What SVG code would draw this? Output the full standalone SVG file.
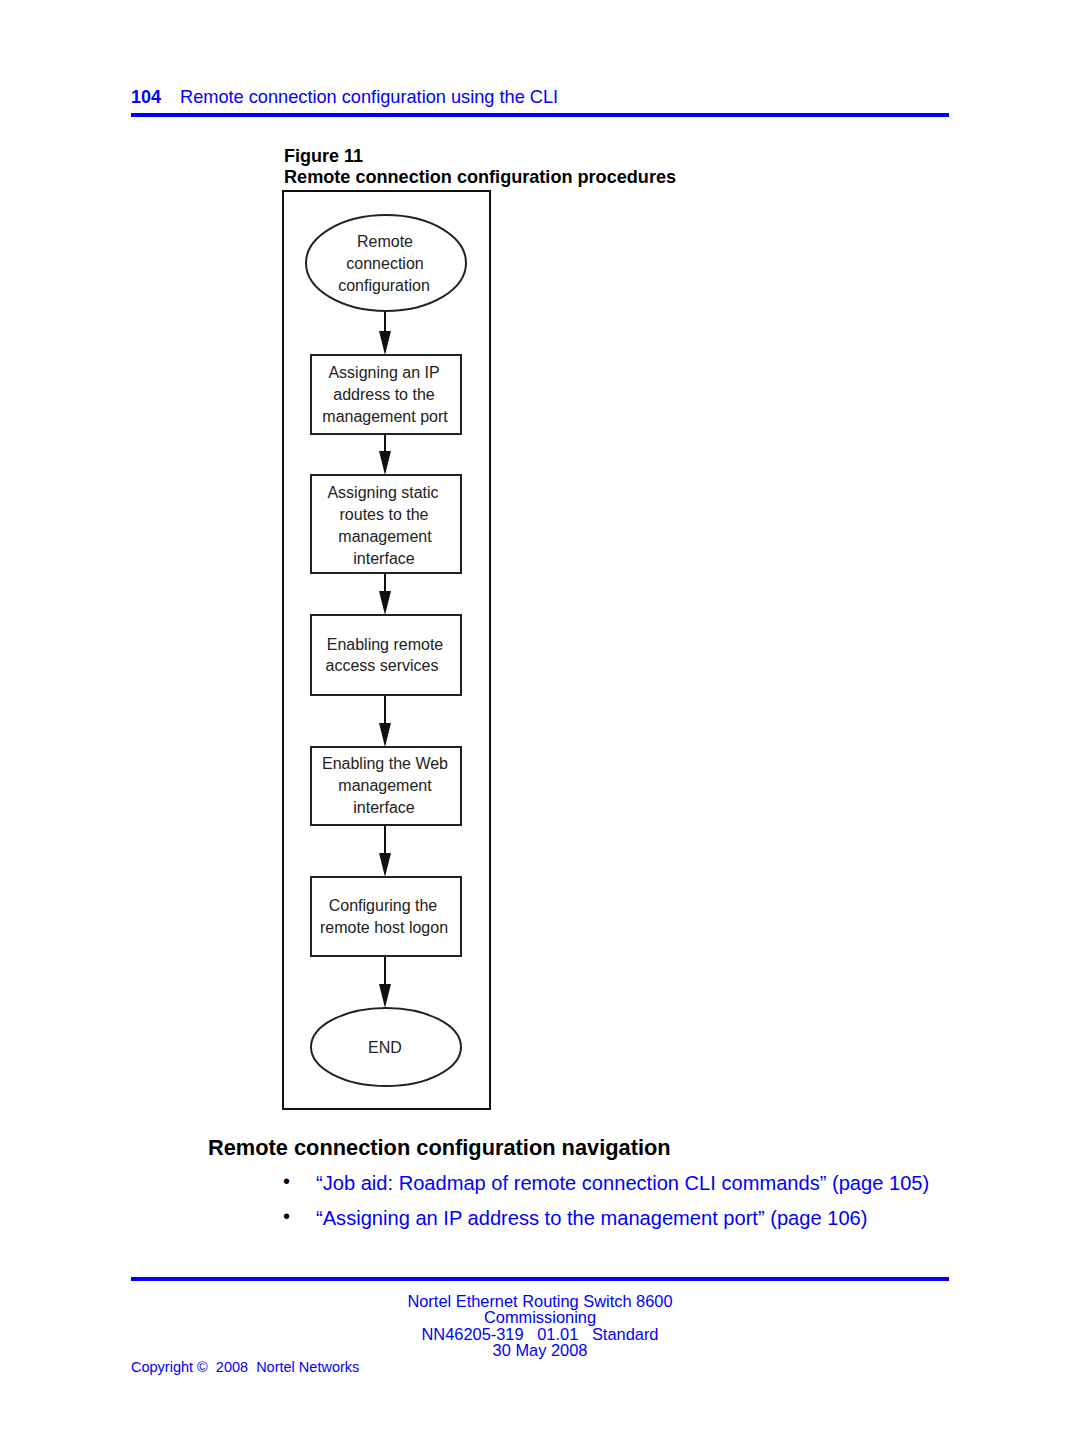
<svg xmlns="http://www.w3.org/2000/svg" width="1080" height="1440" viewBox="0 0 1080 1440">
<defs>
<style>
.hdr{font-family:"Liberation Sans",Arial,sans-serif;fill:#0000ff;}
.node{fill:#fff;stroke:#222;stroke-width:2;}
.nt{font-family:"Liberation Sans",Arial,sans-serif;font-size:16px;fill:#222;text-anchor:middle;}
.edge{stroke:#111;stroke-width:2;fill:none;}
.cap{font-family:"Liberation Sans",Arial,sans-serif;font-weight:bold;fill:#000;}
.ft{font-family:"Liberation Sans",Arial,sans-serif;font-size:16.4px;fill:#0000ff;text-anchor:middle;white-space:pre;}
</style>
</defs>
<rect width="1080" height="1440" fill="#fff"/>
<g id="header">
<text class="hdr" x="131" y="103" font-size="18" font-weight="bold">104</text>
<text class="hdr" x="180" y="103" font-size="18.2">Remote connection configuration using the CLI</text>
<rect x="131" y="113" width="818" height="4" fill="#0000ff"/>
</g>
<g id="caption">
<text class="cap" x="284" y="162" font-size="18">Figure 11</text>
<text class="cap" x="284" y="183" font-size="18.1">Remote connection configuration procedures</text>
</g>
<rect id="frame" x="283" y="191" width="207" height="918" fill="none" stroke="#111" stroke-width="2"/>
<g id="connectors">
<path class="edge" d="M385,311 V331"/><path d="M379,331 L385,355 L391,331 Z" fill="#111"/>
<path class="edge" d="M385,434 V451"/><path d="M379,451 L385,475 L391,451 Z" fill="#111"/>
<path class="edge" d="M385,573 V591"/><path d="M379,591 L385,615 L391,591 Z" fill="#111"/>
<path class="edge" d="M385,695 V723"/><path d="M379,723 L385,747 L391,723 Z" fill="#111"/>
<path class="edge" d="M385,825 V853"/><path d="M379,853 L385,877 L391,853 Z" fill="#111"/>
<path class="edge" d="M385,956 V984"/><path d="M379,984 L385,1008 L391,984 Z" fill="#111"/>
</g>
<g id="start">
<ellipse class="node" cx="386" cy="263" rx="80" ry="48"/>
<text class="nt" x="385" y="247">Remote</text>
<text class="nt" x="385" y="269">connection</text>
<text class="nt" x="384" y="291">configuration</text>
</g>
<g id="assign-ip">
<rect class="node" x="311" y="355" width="150" height="79"/>
<text class="nt" x="384" y="378">Assigning an IP</text>
<text class="nt" x="384" y="400">address to the</text>
<text class="nt" x="385" y="422">management port</text>
</g>
<g id="static-routes">
<rect class="node" x="311" y="475" width="150" height="98"/>
<text class="nt" x="383" y="498">Assigning static</text>
<text class="nt" x="384" y="520">routes to the</text>
<text class="nt" x="385" y="542">management</text>
<text class="nt" x="384" y="564">interface</text>
</g>
<g id="remote-access">
<rect class="node" x="311" y="615" width="150" height="80"/>
<text class="nt" x="385" y="650">Enabling remote</text>
<text class="nt" x="382" y="671">access services</text>
</g>
<g id="web-mgmt">
<rect class="node" x="311" y="747" width="150" height="78"/>
<text class="nt" x="385" y="769">Enabling the Web</text>
<text class="nt" x="385" y="791">management</text>
<text class="nt" x="384" y="813">interface</text>
</g>
<g id="host-logon">
<rect class="node" x="311" y="877" width="150" height="79"/>
<text class="nt" x="383" y="911">Configuring the</text>
<text class="nt" x="384" y="933">remote host logon</text>
</g>
<g id="end">
<ellipse class="node" cx="386" cy="1047" rx="75" ry="39"/>
<text class="nt" x="385" y="1053">END</text>
</g>
<g id="navigation">
<text class="cap" x="208" y="1155" font-size="21.8">Remote connection configuration navigation</text>
<text x="283" y="1188" font-family="Liberation Sans,Arial,sans-serif" font-size="20" fill="#000">•</text>
<text class="hdr" x="316" y="1190" font-size="20.1">“Job aid: Roadmap of remote connection CLI commands” (page 105)</text>
<text x="283" y="1223" font-family="Liberation Sans,Arial,sans-serif" font-size="20" fill="#000">•</text>
<text class="hdr" x="316" y="1225" font-size="20.1">“Assigning an IP address to the management port” (page 106)</text>
</g>
<g id="footer">
<rect x="131" y="1277" width="818" height="4" fill="#0000ff"/>
<text class="ft" x="540" y="1307">Nortel Ethernet Routing Switch 8600</text>
<text class="ft" x="540" y="1323">Commissioning</text>
<text class="ft" x="540" y="1340">NN46205-319   01.01   Standard</text>
<text class="ft" x="540" y="1356">30 May 2008</text>
<text class="hdr" x="131" y="1372" font-size="14.5" style="white-space:pre">Copyright ©  2008  Nortel Networks</text>
</g>
</svg>
